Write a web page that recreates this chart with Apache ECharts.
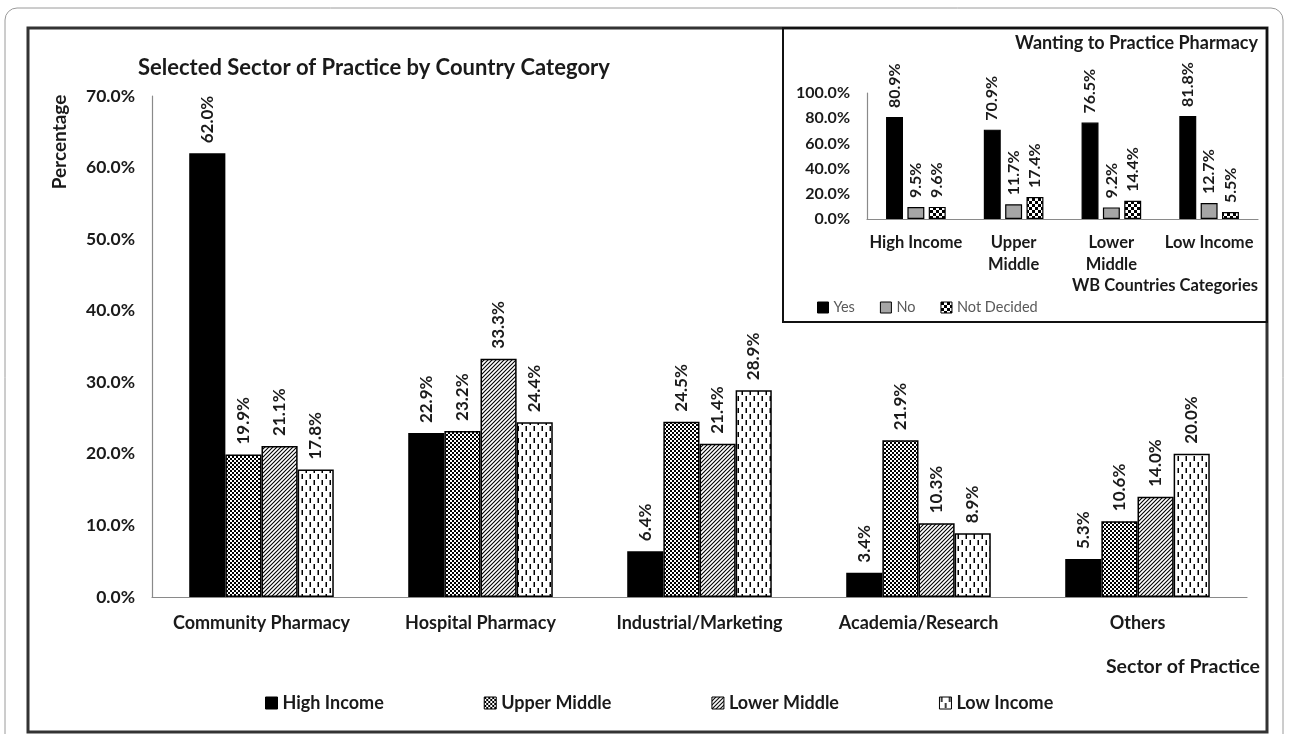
<!DOCTYPE html>
<html><head><meta charset="utf-8">
<script src="https://cdn.jsdelivr.net/npm/echarts@6/dist/echarts.min.js"></script>
<style>html,body{margin:0;padding:0;background:#fff}#c{width:1290px;height:734px}</style>
</head><body><div id="c"></div>
<script>
// ---------- data ----------
const sectors = ['Community Pharmacy', 'Hospital Pharmacy', 'Industrial/Marketing', 'Academia/Research', 'Others'];
const incomeGroups = ['High Income', 'Upper Middle', 'Lower Middle', 'Low Income'];
const highIncome  = [62.0, 22.9, 6.4, 3.4, 5.3];
const upperMiddle = [19.9, 23.2, 24.5, 21.9, 10.6];
const lowerMiddle = [21.1, 33.3, 21.4, 10.3, 14.0];
const lowIncome   = [17.8, 24.4, 28.9, 8.9, 20.0];
const mainTicks = [0, 10, 20, 30, 40, 50, 60, 70];

const insetCategories = ['High Income', 'Upper\nMiddle', 'Lower\nMiddle', 'Low Income'];
const answerNames = ['Yes', 'No', 'Not Decided'];
const yesVals = [80.9, 70.9, 76.5, 81.8];
const noVals  = [9.5, 11.7, 9.2, 12.7];
const ndVals  = [9.6, 17.4, 14.4, 5.5];
const insetTicks = [0, 20, 40, 60, 80, 100];

// ---------- patterns ----------
function tile(w, h, draw) {
  const c = document.createElement('canvas');
  c.width = w; c.height = h;
  const g = c.getContext('2d');
  g.fillStyle = '#fff'; g.fillRect(0, 0, w, h);
  draw(g);
  return { image: c, repeat: 'repeat' };
}
const checkFine = tile(4, 4, g => { g.fillStyle = '#000'; g.fillRect(0, 0, 2, 2); g.fillRect(2, 2, 2, 2); g.fillRect(1, 1, 1, 1); });
const diagonal = tile(4, 4, g => {
  g.strokeStyle = '#000'; g.lineWidth = 1.1;
  g.beginPath(); g.moveTo(0, 4); g.lineTo(4, 0);
  g.moveTo(-1, 1); g.lineTo(1, -1); g.moveTo(3, 5); g.lineTo(5, 3); g.stroke();
});
const dashes = tile(8, 12, g => {
  g.fillStyle = '#000';
  g.fillRect(1.5, 0, 1.5, 5);
  g.fillRect(5.5, 6, 1.5, 5);
});
const checkBig = tile(6, 6, g => { g.fillStyle = '#000'; g.fillRect(0, 0, 3, 3); g.fillRect(3, 3, 3, 3); });

const FONT = 'Lato';
const TXT = '#1a1a1a';
const pct = v => v.toFixed(1) + '%';

function mainSeries(name, data, color) {
  return {
    name, type: 'bar', data, xAxisIndex: 0, yAxisIndex: 0,
    barGap: '0%', barCategoryGap: '34%',
    itemStyle: { color, borderColor: '#000', borderWidth: 1.5 },
    label: {
      show: true, position: 'top', rotate: 90, align: 'left', verticalAlign: 'middle', distance: 10,
      formatter: p => pct(p.value), fontFamily: FONT, fontWeight: 'bold', fontSize: 17, color: TXT
    }
  };
}
function insetSeries(name, data, color) {
  return {
    name, type: 'bar', data, xAxisIndex: 1, yAxisIndex: 1,
    barGap: '26%', barCategoryGap: '39%',
    itemStyle: { color, borderColor: '#000', borderWidth: 1.2 },
    label: {
      show: true, position: 'top', rotate: 90, align: 'left', verticalAlign: 'middle', distance: 9,
      formatter: p => pct(p.value), fontFamily: FONT, fontWeight: 'bold', fontSize: 16, color: TXT
    }
  };
}

const chart = echarts.init(document.getElementById('c'), null, { renderer: 'canvas' });
chart.setOption({
  animation: false,
  backgroundColor: '#fff',
  textStyle: { fontFamily: FONT },
  grid: [
    { left: 152, right: 43, top: 96, bottom: 137 },
    { left: 867, right: 32, top: 93, bottom: 515 }
  ],
  xAxis: [
    { type: 'category', gridIndex: 0, data: sectors,
      axisLine: { lineStyle: { color: '#8a8a8a', width: 1.2 } }, axisTick: { show: false },
      axisLabel: { interval: 0, margin: 17, fontFamily: FONT, fontWeight: 'bold', fontSize: 18, color: TXT } },
    { type: 'category', gridIndex: 1, data: insetCategories,
      axisLine: { lineStyle: { color: '#8a8a8a', width: 1.2 } }, axisTick: { show: false },
      axisLabel: { interval: 0, margin: 13, fontFamily: FONT, fontWeight: 'bold', fontSize: 16.5, lineHeight: 22, color: TXT } }
  ],
  yAxis: [
    { type: 'value', gridIndex: 0, min: mainTicks[0], max: mainTicks[mainTicks.length - 1], interval: 10,
      splitLine: { show: false }, axisTick: { show: false },
      axisLine: { show: true, lineStyle: { color: '#8a8a8a', width: 1.2 } },
      axisLabel: { margin: 17, formatter: v => pct(v), fontFamily: FONT, fontWeight: 'bold', fontSize: 17.5, color: TXT } },
    { type: 'value', gridIndex: 1, min: insetTicks[0], max: insetTicks[insetTicks.length - 1], interval: 20,
      splitLine: { show: false }, axisTick: { show: false },
      axisLine: { show: true, lineStyle: { color: '#8a8a8a', width: 1.2 } },
      axisLabel: { margin: 17, formatter: v => pct(v), fontFamily: FONT, fontWeight: 'bold', fontSize: 16, color: TXT } }
  ],
  legend: [
    { data: incomeGroups, left: 260, top: 689, icon: 'rect', itemWidth: 12, itemHeight: 12, itemGap: 100,
      itemStyle: { borderColor: '#000', borderWidth: 1 },
      textStyle: { fontFamily: FONT, fontWeight: 'bold', fontSize: 18, color: TXT } },
    { data: answerNames, left: 812, top: 295, icon: 'rect', itemWidth: 11, itemHeight: 11, itemGap: 25,
      itemStyle: { borderColor: '#000', borderWidth: 1 },
      textStyle: { fontFamily: FONT, fontSize: 14.5, color: '#595959' } }
  ],
  graphic: [
    { type: 'rect', shape: { x: 5, y: 8, width: 1278, height: 760, r: 12 }, style: { fill: 'none', stroke: '#9a9a9a', lineWidth: 1 }, z: 0 },
    { type: 'rect', shape: { x: 28, y: 28, width: 1239, height: 704 }, style: { fill: 'none', stroke: '#333', lineWidth: 3 }, z: 0 },
    { type: 'rect', shape: { x: 783, y: 28, width: 484, height: 294 }, style: { fill: 'none', stroke: '#111', lineWidth: 2 }, z: 0 },
    { type: 'text', x: 138, y: 68, style: { text: 'Selected Sector of Practice by Country Category', font: 'bold 22px Lato', fill: TXT, verticalAlign: 'middle', align: 'left' } },
    { type: 'text', x: 60, y: 142, rotation: Math.PI / 2, style: { text: 'Percentage', font: 'bold 19px Lato', fill: TXT, verticalAlign: 'middle', align: 'center' } },
    { type: 'text', x: 1260, y: 667, style: { text: 'Sector of Practice', font: 'bold 19.5px Lato', fill: TXT, verticalAlign: 'middle', align: 'right' } },
    { type: 'text', x: 1258, y: 43, style: { text: 'Wanting to Practice Pharmacy', font: 'bold 18px Lato', fill: TXT, verticalAlign: 'middle', align: 'right' } },
    { type: 'text', x: 1258, y: 286, style: { text: 'WB Countries Categories', font: 'bold 16.5px Lato', fill: TXT, verticalAlign: 'middle', align: 'right' } }
  ],
  series: [
    mainSeries(incomeGroups[0], highIncome, '#000'),
    mainSeries(incomeGroups[1], upperMiddle, checkFine),
    mainSeries(incomeGroups[2], lowerMiddle, diagonal),
    mainSeries(incomeGroups[3], lowIncome, dashes),
    insetSeries(answerNames[0], yesVals, '#000'),
    insetSeries(answerNames[1], noVals, '#a6a6a6'),
    insetSeries(answerNames[2], ndVals, checkBig)
  ]
});
</script></body></html>
